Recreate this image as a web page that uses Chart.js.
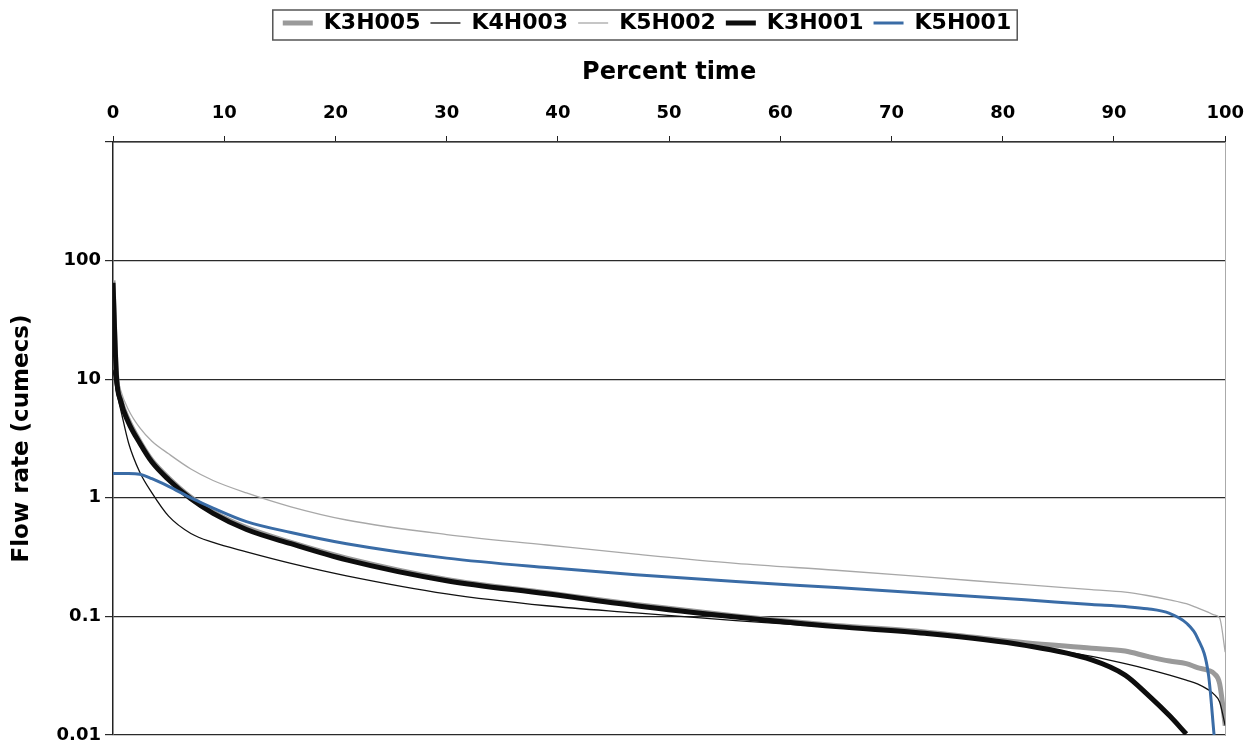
<!DOCTYPE html>
<html>
<head>
<meta charset="utf-8">
<title>Flow duration curves</title>
<script src="https://cdn.jsdelivr.net/npm/chart.js@4.4.1/dist/chart.umd.min.js"></script>
<style>
    body { margin: 0; background: #fff; }
    #wrap { width: 1256px; height: 751px; position: relative; }
</style>
</head>
<body>
<div id="wrap"><canvas id="fdcChart"></canvas></div>
<script>
// Percent of time flow is equalled or exceeded
const percentTime = [0, 0.3, 0.7, 1.4, 2.4, 3.5, 5, 7, 9, 12, 16, 21, 30, 39, 47, 56, 65, 73, 82, 88, 91, 93, 95, 96.5, 97.5, 98.5, 99, 99.5, 100];

// Flow rate (cumecs) per gauging station
const k3h005 = [68, 11.5, 6.8, 4.5, 3.0, 2.07, 1.47, 1.01, 0.76, 0.56, 0.42, 0.31, 0.205, 0.158, 0.126, 0.101, 0.084, 0.074, 0.06, 0.054, 0.051, 0.046, 0.042, 0.04, 0.037, 0.035, 0.033, 0.027, 0.012];
const k4h003 = [12, 8, 5.5, 2.9, 1.65, 1.1, 0.7, 0.5, 0.42, 0.35, 0.28, 0.22, 0.155, 0.123, 0.107, 0.092, 0.081, 0.071, 0.057, 0.046, 0.04, 0.036, 0.032, 0.029, 0.027, 0.024, 0.022, 0.019, 0.012];
const k5h002 = [25, 12, 8, 5.5, 3.9, 3.0, 2.35, 1.75, 1.4, 1.1, 0.84, 0.65, 0.49, 0.4, 0.335, 0.28, 0.245, 0.215, 0.185, 0.168, 0.16, 0.15, 0.138, 0.128, 0.118, 0.108, 0.103, 0.097, 0.05];
const k3h001 = [65, 11, 6.5, 4.3, 2.9, 2.0, 1.42, 0.98, 0.74, 0.54, 0.41, 0.3, 0.2, 0.155, 0.123, 0.099, 0.082, 0.072, 0.057, 0.043, 0.032, 0.022, 0.0145, 0.0102, null, null, null, null, null];
const k5h001 = [1.6, 1.6, 1.6, 1.6, 1.58, 1.45, 1.25, 1.0, 0.82, 0.63, 0.51, 0.41, 0.31, 0.258, 0.225, 0.197, 0.175, 0.157, 0.138, 0.126, 0.121, 0.116, 0.106, 0.088, 0.066, 0.032, 0.01, null, null];

const yTickValues = [0.01, 0.1, 1, 10, 100, 1000];
const yLabelled = [0.01, 0.1, 1, 10, 100];

const FONT = 'DejaVu Sans';
const LEGEND_SHIFT = 19;

function toPoints(values) {
    return percentTime.map((p, i) => ({ x: p, y: values[i] }));
}

// shift the legend a bit right and draw a frame round it
const legendFrame = {
    id: 'legendFrame',
    afterLayout(chart) {
        chart.legend.left += LEGEND_SHIFT;
        chart.legend.right += LEGEND_SHIFT;
    },
    afterDraw(chart) {
        const boxes = chart.legend.legendHitBoxes;
        if (!boxes || !boxes.length) return;
        const first = boxes[0];
        const last = boxes[boxes.length - 1];
        const ctx = chart.ctx;
        ctx.save();
        ctx.strokeStyle = '#555';
        ctx.lineWidth = 1.5;
        ctx.strokeRect(first.left - 10, first.top - 2, last.left + last.width - first.left + 16, first.height + 8);
        ctx.restore();
    }
};

const logAxisBase = {
    type: 'logarithmic',
    min: 0.01,
    max: 1000,
    afterBuildTicks: axis => {
        axis.ticks = yTickValues.map(v => ({ value: v }));
    }
};

const ctx = document.getElementById('fdcChart').getContext('2d');

new Chart(ctx, {
    type: 'line',
    data: {
        datasets: [
            { label: 'K3H005', data: toPoints(k3h005), borderColor: '#9a9a9a', backgroundColor: '#9a9a9a', borderWidth: 5, order: 4 },
            { label: 'K4H003', data: toPoints(k4h003), borderColor: '#111111', backgroundColor: '#111111', borderWidth: 1.3, order: 3 },
            { label: 'K5H002', data: toPoints(k5h002), borderColor: '#a8a8a8', backgroundColor: '#a8a8a8', borderWidth: 1.3, order: 2 },
            { label: 'K3H001', data: toPoints(k3h001), borderColor: '#0d0d0d', backgroundColor: '#0d0d0d', borderWidth: 5, order: 1 },
            { label: 'K5H001', data: toPoints(k5h001), borderColor: '#3a6ca6', backgroundColor: '#3a6ca6', borderWidth: 3, order: 0 }
        ]
    },
    options: {
        responsive: true,
        maintainAspectRatio: false,
        animation: false,
        layout: { padding: { top: 2, bottom: 16, left: 0, right: 0 } },
        elements: {
            point: { radius: 0 },
            line: { cubicInterpolationMode: 'monotone' }
        },
        plugins: {
            tooltip: { enabled: false },
            legend: {
                position: 'top',
                labels: {
                    usePointStyle: true,
                    pointStyle: 'line',
                    pointStyleWidth: 30,
                    padding: 10,
                    color: '#000',
                    font: { family: FONT, size: 22, weight: 'bold' },
                    sort: (a, b) => a.datasetIndex - b.datasetIndex
                }
            }
        },
        scales: {
            x: {
                type: 'linear',
                position: 'top',
                min: 0,
                max: 100,
                ticks: {
                    stepSize: 10,
                    padding: 12,
                    color: '#000',
                    font: { family: FONT, size: 18, weight: 'bold' }
                },
                grid: { drawOnChartArea: false, drawTicks: true, tickLength: 6, color: '#222' },
                border: { color: '#333', width: 1.5 },
                title: {
                    display: true,
                    text: 'Percent time',
                    color: '#000',
                    font: { family: FONT, size: 24, weight: 'bold' },
                    padding: { top: 14, bottom: 0 }
                },
                afterFit: scale => {
                    scale.height = 140 - scale.chart.legend.height;
                }
            },
            y: {
                ...logAxisBase,
                position: 'left',
                ticks: {
                    padding: 4,
                    color: '#000',
                    font: { family: FONT, size: 18, weight: 'bold' },
                    callback: v => yLabelled.includes(v) ? String(v) : ''
                },
                grid: { color: '#2a2a2a', lineWidth: 1.2, tickLength: 8 },
                border: { color: '#222', width: 1.5 },
                title: {
                    display: true,
                    text: 'Flow rate (cumecs)',
                    color: '#000',
                    font: { family: FONT, size: 23, weight: 'bold' },
                    padding: { top: 8, bottom: 0 }
                },
                afterFit: scale => { scale.width = 113; }
            },
            yRight: {
                ...logAxisBase,
                position: 'right',
                ticks: { display: false },
                grid: { drawOnChartArea: false, drawTicks: false },
                border: { color: '#aaa', width: 1 },
                afterFit: scale => { scale.width = 28; }
            }
        }
    },
    plugins: [legendFrame]
});
</script>
</body>
</html>
